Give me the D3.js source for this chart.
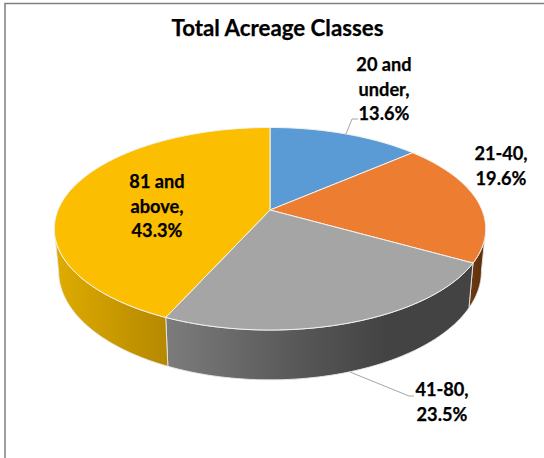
<!DOCTYPE html>
<html><head><meta charset="utf-8">
<script src="https://cdn.jsdelivr.net/npm/d3@7"></script>
<style>html,body{margin:0;padding:0;background:#fff}svg{display:block}text{font-family:Lato,"Liberation Sans",sans-serif;font-weight:700;fill:#000;stroke:#000;stroke-width:0.25px}</style>
</head><body><script>
const categories = ["20 and under", "21-40", "41-80", "81 and above"];
const shares = [13.6, 19.6, 23.5, 43.3];
const topColors = ["#5b9bd5", "#ed7d31", "#a5a5a5", "#fcbe00"];
const labelLines = [["20 and","under,","13.6%"],["21-40,","19.6%"],["41-80,","23.5%"],["81 and","above,","43.3%"]];
const labelAnchors = [[384,71],[501,160],[442,396],[157,188]];
const wallStops = [
  null,
  [["0%","#6f3a12"],["100%","#5a2d0c"]],
  [["0%","#7c7c7c"],["45%","#565656"],["72%","#434343"],["100%","#434343"]],
  [["0%","#dfac00"],["100%","#b58800"]]
];

const W=544,H=458, cx=270, cy=210, Rx=212, Ry=97.8, p=0.1852;
const svg=d3.select("body").append("svg").attr("width",W).attr("height",H);
const defs=svg.append("defs");

// perspective projection of the unit disc, top face and base
const project=(t,r=1)=>{const X=r*Math.sin(t),Y=-r*Math.cos(t),w=1-p*Y;return [cx+Rx*X/w,cy+Ry*Y/w];};
const projectBase=t=>{const X=Math.sin(t),Y=-Math.cos(t),w=1-p*Y;return [cx+0.98*Rx*X/w,251+105*Y/w];};
const sample=(a,b,f)=>d3.range(0,61).map(i=>f(a+(b-a)*i/60));
const line=d3.line();

const arcs=d3.pie().sort(null)(shares);
const tL=Math.acos(-p), tR=2*Math.PI-Math.acos(-p); // silhouette tangents

// outer frame
svg.append("path").attr("d",`M5,${H} V3.5 H${W}`).attr("fill","none").attr("stroke","#7f7f7f").attr("stroke-width",1.5);

// side walls
arcs.forEach((a,i)=>{
  const s=Math.max(a.startAngle,tL), e=Math.min(a.endAngle,tR);
  if(!wallStops[i]||s>=e) return;
  const id="wall"+i;
  const top=sample(s,e,project), base=sample(s,e,projectBase);
  const xs=top.concat(base).map(d=>d[0]);
  const g=defs.append("linearGradient").attr("id",id).attr("gradientUnits","userSpaceOnUse")
    .attr("x1",d3.min(xs)).attr("x2",d3.max(xs)).attr("y1",0).attr("y2",0);
  wallStops[i].forEach(st=>g.append("stop").attr("offset",st[0]).attr("stop-color",st[1]));
  svg.append("path").attr("d",line(top.concat(base.reverse()))+"Z").attr("fill",`url(#${id})`)
    .attr("stroke","#e8e8e8").attr("stroke-width",0.9).attr("stroke-linejoin","round");
});

// top face
arcs.forEach((a,i)=>{
  const pts=[[cx,cy]].concat(sample(a.startAngle,a.endAngle,project));
  svg.append("path").attr("d",line(pts)+"Z").attr("fill",topColors[i]).attr("stroke","#f2f2f2").attr("stroke-width",1).attr("stroke-linejoin","round");
});

// leader lines
const leaderEnds=[[[346,134],[352,119],[358,119]],[[350,372],[409,396],[414,396]]];
leaderEnds.forEach(l=>svg.append("path").attr("d",line(l)).attr("fill","none").attr("stroke","#a6a6a6").attr("stroke-width",1));

// title and labels
svg.append("text").attr("x",277.5).attr("y",36).attr("text-anchor","middle").attr("font-size",22.3).text("Total Acreage Classes");
labelLines.forEach((ls,i)=>{
  const t=svg.append("text").attr("text-anchor","middle").attr("font-size",18.2);
  ls.forEach((s,j)=>t.append("tspan").attr("x",labelAnchors[i][0]).attr("y",labelAnchors[i][1]+j*24.5).text(s));
});
</script></body></html>
